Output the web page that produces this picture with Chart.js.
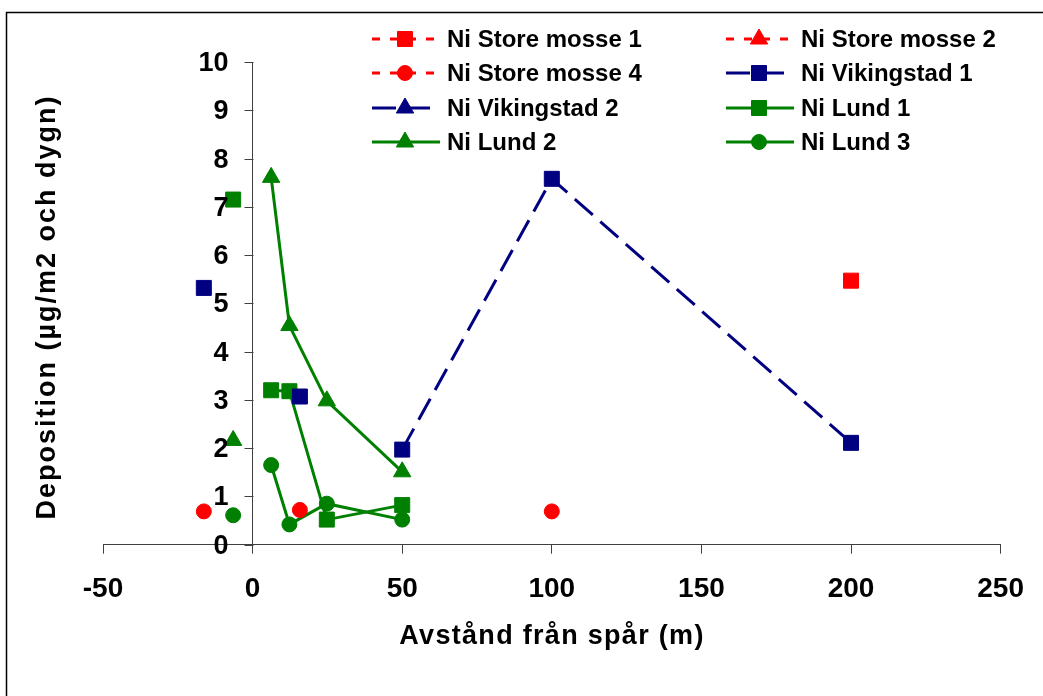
<!DOCTYPE html>
<html lang="sv">
<head>
<meta charset="utf-8">
<title>Ni-deposition</title>
<script src="https://cdn.jsdelivr.net/npm/chart.js@4.4.1/dist/chart.umd.min.js"></script>
<style>
  html, body { margin: 0; padding: 0; background: #fff; }
  #wrap { width: 1043px; height: 696px; }
</style>
</head>
<body>
<div id="wrap"><canvas id="depChart" width="1043" height="696"></canvas></div>
<script>
// avstånd från spår (m) och deposition (µg/m2 och dygn), null = inget värde (bruten linje)
const seriesNames = ['Ni Store mosse 1', 'Ni Store mosse 2', 'Ni Store mosse 4', 'Ni Vikingstad 1',
                     'Ni Vikingstad 2', 'Ni Lund 1', 'Ni Lund 2', 'Ni Lund 3'];

const storeMosse1X = [200];
const storeMosse1Y = [5.47];
const storeMosse2X = [];
const storeMosse2Y = [];
const storeMosse4X = [-16.3, 0, 15.8, 50, 100];
const storeMosse4Y = [0.69, null, 0.72, null, 0.69];
const vikingstad1X = [-16.3, 0, 15.8, 30, 50, 100, 200];
const vikingstad1Y = [5.32, null, 3.07, null, 1.97, 7.58, 2.11];
const vikingstad2X = [];
const vikingstad2Y = [];
const lundX = [-6.5, 0, 6.2, 12.3, 24.8, 50];
const lund1Y = [7.15, null, 3.2, 3.18, 0.52, 0.82];
const lund2Y = [2.16, null, 7.61, 4.54, 2.98, 1.51];
const lund3Y = [0.61, null, 1.65, 0.42, 0.85, 0.52];

const xTicks = [-50, 0, 50, 100, 150, 200, 250];
const yTicks = [0, 1, 2, 3, 4, 5, 6, 7, 8, 9, 10];

const xTitle = 'Avstånd från spår (m)';
const yTitle = 'Deposition (µg/m2 och dygn)';

const RED = '#ff0000', NAVY = '#000080', GREEN = '#008000';
const FONT = '"Liberation Sans", Arial, sans-serif';
const axisColor = '#404040';

function pts(xs, ys) {
    return xs.map((x, i) => ({ x: x, y: ys[i] }));
}

function series(i, xs, ys, color, style, dash) {
    const r = style === 'circle' ? 7.5 : (style === 'rect' ? 10.6 : 10);
    return {
        label: seriesNames[i],
        data: pts(xs, ys),
        borderColor: color,
        backgroundColor: color,
        borderWidth: 3,
        borderDash: dash,
        pointStyle: style,
        pointRadius: r,
        pointBorderWidth: 1,
        pointBorderColor: color,
        pointBackgroundColor: color,
        spanGaps: false,
        tension: 0
    };
}

const shortDash = [8, 10];
const longDash = [24, 10];

const datasets = [
    series(0, storeMosse1X, storeMosse1Y, RED, 'rect', shortDash),
    series(1, storeMosse2X, storeMosse2Y, RED, 'triangle', shortDash),
    series(2, storeMosse4X, storeMosse4Y, RED, 'circle', shortDash),
    series(3, vikingstad1X, vikingstad1Y, NAVY, 'rect', longDash),
    series(4, vikingstad2X, vikingstad2Y, NAVY, 'triangle', longDash),
    series(5, lundX, lund1Y, GREEN, 'rect', []),
    series(6, lundX, lund2Y, GREEN, 'triangle', []),
    series(7, lundX, lund3Y, GREEN, 'circle', [])
];

// ram runt diagrammet, y-axelns skala vid x = 0, axeltitlar och förklaring
const frame = {
    id: 'frame',
    beforeDraw(chart) {
        const ctx = chart.ctx;
        ctx.save();
        ctx.fillStyle = '#fff';
        ctx.fillRect(0, 0, chart.width, chart.height);
        ctx.strokeStyle = '#000';
        ctx.lineWidth = 1.5;
        ctx.strokeRect(6.5, 12.5, chart.width + 20, chart.height + 20);
        ctx.restore();
    },
    afterDraw(chart) {
        const ctx = chart.ctx;
        const xs = chart.scales.x, ys = chart.scales.y;
        const x0 = Math.round(xs.getPixelForValue(0)) + 0.5;

        // y-axelns streck och siffror
        ctx.save();
        ctx.strokeStyle = axisColor;
        ctx.lineWidth = 1;
        ctx.fillStyle = '#000';
        ctx.font = 'bold 27px ' + FONT;
        ctx.textAlign = 'right';
        ctx.textBaseline = 'middle';
        yTicks.forEach(v => {
            const py = Math.round(ys.getPixelForValue(v)) + 0.5;
            ctx.beginPath();
            ctx.moveTo(x0 - 9, py);
            ctx.lineTo(x0, py);
            ctx.stroke();
            ctx.fillText(String(v), x0 - 25, py + 1);
        });
        ctx.restore();

        // axeltitlar
        ctx.save();
        ctx.fillStyle = '#000';
        ctx.font = 'bold 27px ' + FONT;
        ctx.textAlign = 'center';
        ctx.textBaseline = 'middle';
        ctx.letterSpacing = '1.3px';
        ctx.fillText(xTitle, 552, 637);
        ctx.letterSpacing = '2px';
        ctx.translate(48, 307);
        ctx.rotate(-Math.PI / 2);
        ctx.fillText(yTitle, 0, 0);
        ctx.restore();

        // förklaring, två kolumner
        const colX = [372, 726];
        const rowY = [39, 73, 108, 142];
        ctx.save();
        ctx.font = 'bold 24px ' + FONT;
        ctx.textBaseline = 'middle';
        ctx.textAlign = 'left';
        chart.data.datasets.forEach((ds, i) => {
            const lx = colX[i % 2];
            const y = rowY[Math.floor(i / 2)];
            const w = ds.borderDash.length ? 64 : 68;
            ctx.strokeStyle = ds.borderColor;
            ctx.lineWidth = ds.borderWidth;
            ctx.setLineDash(ds.borderDash);
            ctx.beginPath();
            ctx.moveTo(lx, y);
            ctx.lineTo(lx + w, y);
            ctx.stroke();
            ctx.setLineDash([]);
            ctx.fillStyle = ds.pointBackgroundColor;
            ctx.strokeStyle = ds.pointBorderColor;
            ctx.lineWidth = 1;
            Chart.helpers.drawPoint(ctx, {
                pointStyle: ds.pointStyle, radius: ds.pointRadius, rotation: 0, borderWidth: 1
            }, lx + 33, y);
            ctx.fillStyle = '#000';
            ctx.fillText(ds.label, lx + 75, y + 1);
        });
        ctx.restore();
    }
};

const tickFont = { family: FONT, size: 28, weight: 'bold' };

new Chart(document.getElementById('depChart'), {
    type: 'line',
    data: { datasets: datasets },
    plugins: [frame],
    options: {
        responsive: false,
        devicePixelRatio: 1,
        animation: false,
        layout: { padding: { left: 103, right: 38, top: 62, bottom: 0 } },
        plugins: { legend: { display: false }, tooltip: { enabled: false } },
        scales: {
            x: {
                type: 'linear',
                min: xTicks[0],
                max: xTicks[xTicks.length - 1],
                afterBuildTicks: s => { s.ticks = xTicks.map(v => ({ value: v })); },
                afterFit: s => { s.height = 151.3; },
                ticks: { color: '#000', font: tickFont, padding: 19 },
                grid: { drawOnChartArea: false, drawTicks: true, tickLength: 9, color: axisColor },
                border: { color: axisColor, width: 1 }
            },
            y: {
                type: 'linear',
                position: { x: 0 },
                min: yTicks[0],
                max: yTicks[yTicks.length - 1],
                afterBuildTicks: s => { s.ticks = yTicks.map(v => ({ value: v })); },
                ticks: { display: false },
                grid: { drawOnChartArea: false, drawTicks: false },
                border: { color: axisColor, width: 1 }
            }
        }
    }
});
</script>
</body>
</html>
